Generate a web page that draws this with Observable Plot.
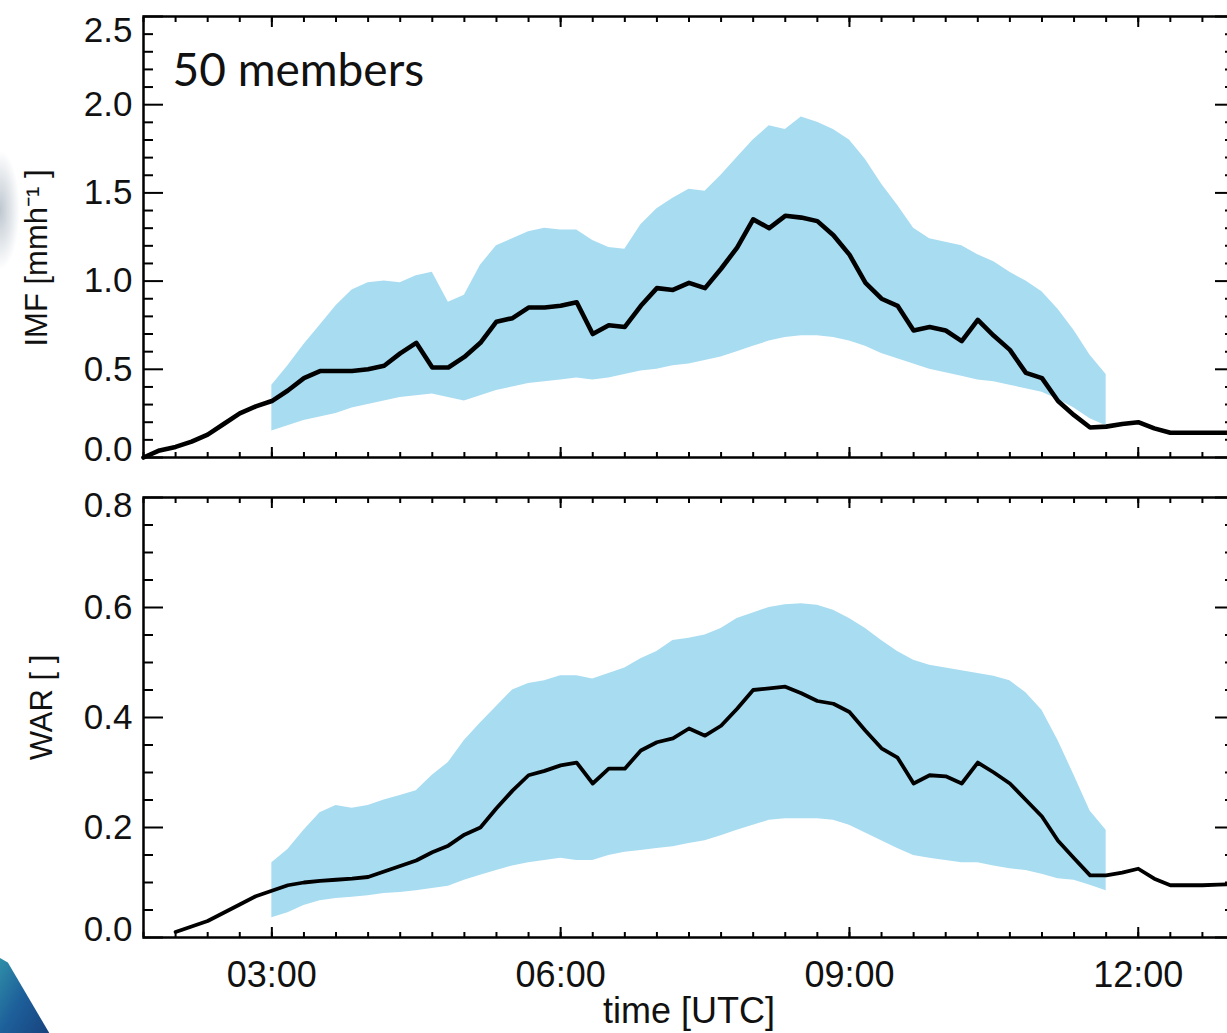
<!DOCTYPE html>
<html>
<head>
<meta charset="utf-8">
<script src="https://cdn.jsdelivr.net/npm/d3@7"></script>
<script src="https://cdn.jsdelivr.net/npm/@observablehq/plot@0.6"></script>
<style>
  html, body { margin: 0; padding: 0; background: #fff; width: 1227px; height: 1033px; overflow: hidden; }
  #wrap { position: relative; width: 1227px; height: 1033px; }
  #top { position: absolute; left: 0; top: 0; }
  #bottom { position: absolute; left: 0; top: 470px; }
  .deco1 { position: absolute; left: 0; top: 958px; width: 56px; height: 75px;
           background: linear-gradient(120deg, #2f8fa8 0%, #1d5f9a 45%, #173f7a 100%);
           clip-path: polygon(0 0, 14% 6%, 88% 100%, 0 100%); }
  .deco2 { position: absolute; left: -20px; top: 150px; width: 40px; height: 120px;
           background: radial-gradient(ellipse at center, rgba(110,130,150,0.45) 0%, rgba(110,130,150,0) 70%); }
</style>
</head>
<body>
<div id="wrap">
  <div class="deco1"></div>
  <div class="deco2"></div>
  <div id="top"></div>
  <div id="bottom"></div>
</div>
<script>
// ---------------- data ----------------
// time stamps of the ensemble-mean line, every 10 minutes
const times = [
  "01:40","01:50",
  "02:00","02:10","02:20","02:30","02:40","02:50",
  "03:00","03:10","03:20","03:30","03:40","03:50",
  "04:00","04:10","04:20","04:30","04:40","04:50",
  "05:00","05:10","05:20","05:30","05:40","05:50",
  "06:00","06:10","06:20","06:30","06:40","06:50",
  "07:00","07:10","07:20","07:30","07:40","07:50",
  "08:00","08:10","08:20","08:30","08:40","08:50",
  "09:00","09:10","09:20","09:30","09:40","09:50",
  "10:00","10:10","10:20","10:30","10:40","10:50",
  "11:00","11:10","11:20","11:30","11:40","11:50",
  "12:00","12:10","12:20","12:30","12:40","12:50",
  "13:00"
];
// IMF [mm/h] black line
const imfLine = [
  0.00, 0.04,
  0.06, 0.09, 0.13, 0.19, 0.25, 0.29,
  0.32, 0.38, 0.45, 0.49, 0.49, 0.49,
  0.50, 0.52, 0.59, 0.65, 0.51, 0.51,
  0.57, 0.65, 0.77, 0.79, 0.85, 0.85,
  0.86, 0.88, 0.70, 0.75, 0.74, 0.86,
  0.96, 0.95, 0.99, 0.96, 1.07, 1.19,
  1.35, 1.30, 1.37, 1.36, 1.34, 1.26,
  1.15, 0.99, 0.90, 0.86, 0.72, 0.74,
  0.72, 0.66, 0.78, 0.69, 0.61, 0.48,
  0.45, 0.32, 0.24, 0.17, 0.175, 0.19,
  0.20, 0.165, 0.14, 0.14, 0.14, 0.14,
  0.14
];
// WAR [ ] black line (no value before 02:00)
const warLine = [
  null, null,
  0.010, 0.020, 0.030, 0.045, 0.060, 0.075,
  0.085, 0.095, 0.100, 0.103, 0.105, 0.107,
  0.110, 0.120, 0.130, 0.140, 0.155, 0.167,
  0.187, 0.200, 0.235, 0.267, 0.295, 0.303,
  0.313, 0.318, 0.280, 0.307, 0.307, 0.340,
  0.355, 0.362, 0.380, 0.367, 0.385, 0.416,
  0.450, 0.453, 0.456, 0.444, 0.430, 0.425,
  0.410, 0.376, 0.344, 0.327, 0.280, 0.295,
  0.293, 0.280, 0.318, 0.300, 0.280, 0.250,
  0.220, 0.176, 0.144, 0.113, 0.113, 0.118,
  0.125, 0.107, 0.095, 0.095, 0.095, 0.096,
  0.097
];
// ensemble spread (50 members), 03:00 - 11:40
const bandTimes = [
  "03:00","03:10","03:20","03:30","03:40","03:50",
  "04:00","04:10","04:20","04:30","04:40","04:50",
  "05:00","05:10","05:20","05:30","05:40","05:50",
  "06:00","06:10","06:20","06:30","06:40","06:50",
  "07:00","07:10","07:20","07:30","07:40","07:50",
  "08:00","08:10","08:20","08:30","08:40","08:50",
  "09:00","09:10","09:20","09:30","09:40","09:50",
  "10:00","10:10","10:20","10:30","10:40","10:50",
  "11:00","11:10","11:20","11:30","11:40"
];
const imfHigh = [
  0.41, 0.52, 0.64, 0.75, 0.86, 0.95,
  0.99, 1.00, 0.99, 1.03, 1.05, 0.88,
  0.92, 1.09, 1.20, 1.24, 1.28, 1.30,
  1.29, 1.29, 1.23, 1.19, 1.18, 1.32,
  1.41, 1.47, 1.52, 1.51, 1.60, 1.70,
  1.80, 1.88, 1.86, 1.93, 1.90, 1.86,
  1.80, 1.69, 1.55, 1.43, 1.30, 1.24,
  1.22, 1.20, 1.15, 1.11, 1.05, 1.00,
  0.94, 0.84, 0.72, 0.58, 0.47
];
const imfLow = [
  0.15, 0.18, 0.21, 0.23, 0.25, 0.28,
  0.30, 0.32, 0.34, 0.35, 0.36, 0.34,
  0.32, 0.35, 0.38, 0.40, 0.42, 0.43,
  0.44, 0.45, 0.44, 0.45, 0.47, 0.49,
  0.50, 0.52, 0.53, 0.55, 0.57, 0.60,
  0.63, 0.66, 0.68, 0.69, 0.69, 0.68,
  0.66, 0.63, 0.59, 0.56, 0.53, 0.50,
  0.48, 0.46, 0.44, 0.43, 0.41, 0.39,
  0.37, 0.33, 0.28, 0.22, 0.18
];
const warHigh = [
  0.136, 0.160, 0.195, 0.227, 0.240, 0.235,
  0.240, 0.250, 0.258, 0.267, 0.295, 0.318,
  0.358, 0.390, 0.420, 0.450, 0.462, 0.467,
  0.476, 0.476, 0.470, 0.480, 0.490, 0.507,
  0.520, 0.540, 0.544, 0.550, 0.562, 0.580,
  0.590, 0.600, 0.605, 0.607, 0.604, 0.595,
  0.580, 0.562, 0.540, 0.520, 0.504, 0.495,
  0.490, 0.485, 0.480, 0.475, 0.467, 0.445,
  0.413, 0.358, 0.295, 0.230, 0.195
];
const warLow = [
  0.036, 0.045, 0.058, 0.067, 0.071, 0.073,
  0.076, 0.080, 0.082, 0.085, 0.089, 0.093,
  0.104, 0.113, 0.122, 0.130, 0.136, 0.140,
  0.144, 0.140, 0.140, 0.149, 0.155, 0.158,
  0.162, 0.165, 0.171, 0.176, 0.185, 0.195,
  0.204, 0.213, 0.216, 0.216, 0.216, 0.213,
  0.204, 0.190, 0.176, 0.162, 0.149, 0.144,
  0.140, 0.136, 0.136, 0.130, 0.125, 0.122,
  0.115, 0.107, 0.104, 0.095, 0.085
];
// axis ticks
const xDomain = ["01:40", "13:00"];
const xMajorTicks = [3, 6, 9, 12];
const xMinorTicks = [1+40/60, 2, 2+20/60, 2+40/60, 3, 3+20/60, 3+40/60, 4, 4+20/60, 4+40/60, 5, 5+20/60, 5+40/60,
  6, 6+20/60, 6+40/60, 7, 7+20/60, 7+40/60, 8, 8+20/60, 8+40/60, 9, 9+20/60, 9+40/60, 10, 10+20/60, 10+40/60,
  11, 11+20/60, 11+40/60, 12, 12+20/60, 12+40/60, 13];
const imfMajorTicks = [0, 0.5, 1.0, 1.5, 2.0, 2.5];
const imfMinorTicks = [0.1,0.2,0.3,0.4, 0.6,0.7,0.8,0.9, 1.1,1.2,1.3,1.4, 1.6,1.7,1.8,1.9, 2.1,2.2,2.3,2.4];
const warMajorTicks = [0, 0.2, 0.4, 0.6, 0.8];
const warMinorTicks = [0.05,0.1,0.15, 0.25,0.3,0.35, 0.45,0.5,0.55, 0.65,0.7,0.75];
const labels = { imf: "IMF [mmh\u207B\u00B9 ]", war: "WAR [ ]", time: "time [UTC]", members: "50 members" };

// ---------------- build ----------------
const toH = s => { const [h, m] = s.split(":").map(Number); return h + m / 60; };
const hourFmt = d => String(Math.round(d)).padStart(2, "0") + ":00";
const FONT = "'Liberation Sans', Arial, Helvetica, sans-serif";
const BLUE = "#a8dcf1";

const lineData = times.map((t, i) => ({ t: toH(t), imf: imfLine[i], war: warLine[i] }));
const bandData = bandTimes.map((t, i) => ({ t: toH(t), imfLo: imfLow[i], imfHi: imfHigh[i], warLo: warLow[i], warHi: warHigh[i] }));

function frameAxes(yMajor, yMinor, withXLabels) {
  const empty = () => "";
  const common = { label: null, strokeWidth: 2, stroke: "black" };
  const marks = [
    Plot.axisY({ ...common, anchor: "left", ticks: yMajor, tickSize: -20, tickFormat: empty }),
    Plot.axisY({ ...common, anchor: "left", ticks: yMinor, tickSize: -10, tickFormat: empty }),
    Plot.axisY({ ...common, anchor: "right", ticks: yMajor, tickSize: -20, tickFormat: empty }),
    Plot.axisY({ ...common, anchor: "right", ticks: yMinor, tickSize: -10, tickFormat: empty }),
    Plot.axisX({ ...common, anchor: "bottom", ticks: xMajorTicks, tickSize: -10, tickFormat: empty }),
    Plot.axisX({ ...common, anchor: "bottom", ticks: xMinorTicks, tickSize: -5, tickFormat: empty }),
    Plot.axisX({ ...common, anchor: "top", ticks: xMajorTicks, tickSize: -10, tickFormat: empty }),
    Plot.axisX({ ...common, anchor: "top", ticks: xMinorTicks, tickSize: -5, tickFormat: empty }),
    Plot.frame({ stroke: "black", strokeWidth: 2.5 })
  ];
  if (withXLabels) {
    marks.push(Plot.axisX({ anchor: "bottom", label: null, ticks: xMajorTicks, tickSize: 0, tickPadding: 24,
      tickFormat: hourFmt, fontSize: 36, fill: "#111" }));
  }
  return marks;
}

function yLabels(ticks, fmt, topDy, bottomDy) {
  const mid = ticks.slice(1, -1);
  const base = { anchor: "left", label: null, tickSize: 0, tickPadding: 11, tickFormat: fmt, fontSize: 35, fill: "#111" };
  return [
    Plot.axisY({ ...base, ticks: mid }),
    Plot.axisY({ ...base, ticks: [ticks[ticks.length - 1]], dy: topDy }),
    Plot.axisY({ ...base, ticks: [ticks[0]], dy: bottomDy })
  ];
}

const fmt1 = d3.format(".1f");
const xScale = { type: "linear", domain: xDomain.map(toH) };

const topPlot = Plot.plot({
  width: 1227, height: 470,
  marginLeft: 143, marginRight: -7, marginTop: 16, marginBottom: 13,
  x: xScale,
  y: { domain: [0, 2.5] },
  style: { fontFamily: FONT, background: "transparent", color: "black" },
  marks: [
    Plot.areaY(bandData, { x: "t", y1: "imfLo", y2: "imfHi", fill: BLUE }),
    Plot.line(lineData, { x: "t", y: "imf", stroke: "black", strokeWidth: 4.6 }),
    ...frameAxes(imfMajorTicks, imfMinorTicks, false),
    ...yLabels(imfMajorTicks, fmt1, 14, -8),
    Plot.text([labels.members], { text: d => d, frameAnchor: "top-left", dx: 29, dy: 37, lineAnchor: "top",
      textAnchor: "start", fontFamily: "Lato, 'Open Sans', sans-serif", fontSize: 46, fill: "#111" }),
    Plot.text([labels.imf], { text: d => d, frameAnchor: "left", rotate: -90, dx: -106, dy: 21,
      lineAnchor: "middle", textAnchor: "middle", fontSize: 31, fill: "#111" })
  ]
});
document.getElementById("top").appendChild(topPlot);

const bottomPlot = Plot.plot({
  width: 1227, height: 563,
  marginLeft: 143, marginRight: -7, marginTop: 27, marginBottom: 96,
  x: xScale,
  y: { domain: [0, 0.8] },
  style: { fontFamily: FONT, background: "transparent", color: "black" },
  marks: [
    Plot.areaY(bandData, { x: "t", y1: "warLo", y2: "warHi", fill: BLUE }),
    Plot.line(lineData, { x: "t", y: "war", stroke: "black", strokeWidth: 3.8 }),
    ...frameAxes(warMajorTicks, warMinorTicks, true),
    ...yLabels(warMajorTicks, fmt1, 8, -8),
    Plot.text([labels.war], { text: d => d, frameAnchor: "left", rotate: -90, dx: -101, dy: -10,
      lineAnchor: "middle", textAnchor: "middle", fontSize: 31, fill: "#111" }),
    Plot.text([labels.time], { text: d => d, frameAnchor: "bottom", dy: 60, lineAnchor: "top",
      textAnchor: "middle", fontSize: 36, fill: "#111" })
  ]
});
document.getElementById("bottom").appendChild(bottomPlot);
</script>
</body>
</html>
